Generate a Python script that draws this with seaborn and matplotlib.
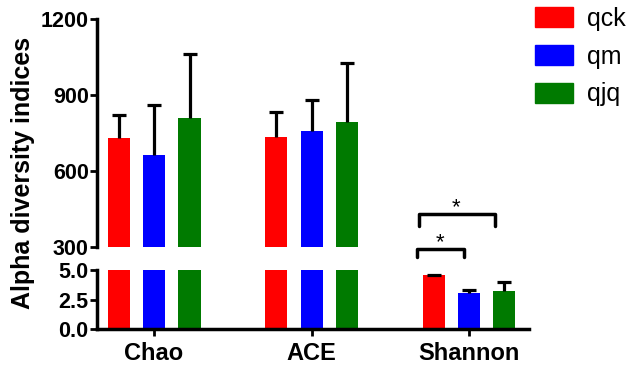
import numpy as np
import pandas as pd
import seaborn as sns
import matplotlib.pyplot as plt
import matplotlib.patches as mpatches

# valores
indices = ['Chao', 'ACE', 'Shannon']
grupos = ['qck', 'qm', 'qjq']
cores = ['#FF0000', '#0000FF', '#007A00']

chao_media = [730, 663, 809]
chao_erro = [91, 197, 253]
ace_media = [734, 759, 794]
ace_erro = [99, 121, 232]
shannon_media = [4.55, 3.03, 3.19]
shannon_erro = [0.06, 0.27, 0.79]

df = pd.DataFrame({
    'indice': np.repeat(indices, 3),
    'grupo': grupos * 3,
    'valor': chao_media + ace_media + shannon_media,
    'erro': chao_erro + ace_erro + shannon_erro,
})

sns.set_style('ticks', {'axes.edgecolor': 'black', 'text.color': 'black',
                        'xtick.color': 'black', 'ytick.color': 'black',
                        'axes.labelcolor': 'black'})
plt.rcParams['font.family'] = ['Liberation Sans', 'DejaVu Sans']
plt.rcParams['font.weight'] = 'bold'

fig = plt.figure(figsize=(6.3, 3.67), dpi=100)
ax_top = fig.add_axes([97 / 630, 1 - 247 / 367, 432 / 630, 228 / 367])
ax_bot = fig.add_axes([97 / 630, 1 - 329 / 367, 432 / 630, 59 / 367])

for ax in (ax_top, ax_bot):
    sns.barplot(data=df, x='indice', y='valor', hue='grupo', hue_order=grupos,
                order=indices, palette=cores, saturation=1, width=0.676, gap=0.38,
                errorbar=None, linewidth=0, legend=False, ax=ax)
    # barras de erro só para cima
    for k, g in enumerate(grupos):
        sub = df[df['grupo'] == g].set_index('indice').loc[indices]
        xs = [b.get_x() + b.get_width() / 2 for b in ax.containers[k]]
        eb = ax.errorbar(xs, sub['valor'], yerr=[np.zeros(3), sub['erro']], fmt='none',
                         ecolor='black', elinewidth=2.3, capsize=5, capthick=2.3)
        eb[1][0].set_visible(False)  # sem cap embaixo
    ax.set_xlim(-0.362, 2.381)
    ax.set_xlabel('')
    ax.set_ylabel('')
    ax.spines['top'].set_visible(False)
    ax.spines['right'].set_visible(False)
    for s in ('left', 'bottom'):
        ax.spines[s].set_linewidth(2.5)
    ax.tick_params(width=2, length=5, pad=1, labelsize=15.5, colors='black')

# eixo superior
ax_top.set_ylim(300, 1200)
ax_top.set_yticks([300, 600, 900, 1200])
ax_top.spines['bottom'].set_visible(False)
ax_top.tick_params(axis='x', bottom=False, labelbottom=False)

# eixo inferior
ax_bot.set_ylim(0, 5)
ax_bot.set_yticks([0, 2.5, 5])
ax_bot.set_yticklabels(['0.0', '2.5', '5.0'])
ax_bot.tick_params(axis='x', labelsize=17, pad=4)

# significância
ax_top.plot([1.670, 1.670, 1.968, 1.968], [260, 292, 292, 260], color='black', lw=2.5, clip_on=False)
ax_top.plot([1.683, 1.683, 2.165, 2.165], [383, 430, 430, 383], color='black', lw=2.5, clip_on=False)
ax_top.text(1.816, 277, '*', ha='center', va='bottom', fontsize=16, fontweight='normal', clip_on=False)
ax_top.text(1.917, 414, '*', ha='center', va='bottom', fontsize=16, fontweight='normal', clip_on=False)

fig.text(23 / 630, 0.529, 'Alpha diversity indices', rotation=90, ha='center', va='center',
         fontsize=18, color='black')

handles = [mpatches.Patch(color=c, label=g) for c, g in zip(cores, grupos)]
fig.legend(handles=handles, loc='upper left', bbox_to_anchor=(535 / 630, 1 - 7 / 367), frameon=False,
           prop={'size': 18, 'weight': 'normal'}, handlelength=1.5, handleheight=0.85,
           handletextpad=0.6, labelspacing=0.55, borderaxespad=0, borderpad=0)

fig.savefig('out.png', dpi=100)
